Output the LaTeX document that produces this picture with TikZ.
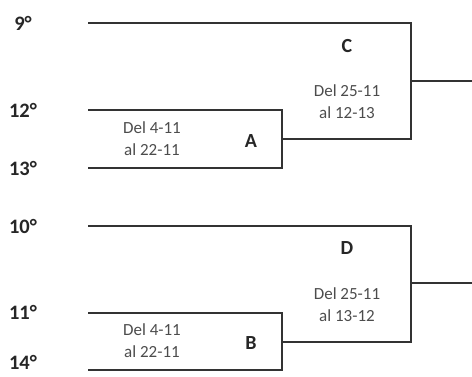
\documentclass[tikz,border=0pt]{standalone}
\usepackage{fontspec}
\setmainfont{Carlito}
\begin{document}
\begin{tikzpicture}[x=1pt,y=-1pt,
  seed/.style={font=\bfseries\fontsize{20.5}{22}\selectfont, text=black!85, inner sep=0pt, anchor=center},
  letter/.style={font=\bfseries\fontsize{20}{22}\selectfont, text=black!85, inner sep=0pt},
  dates/.style={font=\fontsize{17}{22}\selectfont, text=black!70, align=center, inner sep=0pt},
  wire/.style={draw=black!80, line width=1.9pt}]
\useasboundingbox (0,0) rectangle (472,376);
% seed labels
\node[seed] (n9) at (23,23) {9°};
\node[seed] (n12) at (23,110) {12°};
\node[seed] (n13) at (23,168) {13°};
\node[seed] (n10) at (23,226) {10°};
\node[seed] (n11) at (23,312) {11°};
\node[seed] (n14) at (23,362) {14°};
% line endpoints
\coordinate (s9) at (88,23);
\coordinate (s12) at (88,110);
\coordinate (s13) at (88,168);
\coordinate (s10) at (88,226);
\coordinate (s11) at (88,313);
\coordinate (s14) at (88,370);
\coordinate (aT) at (282,110);
\coordinate (aB) at (282,168);
\coordinate (aM) at (282,139);
\coordinate (cT) at (411,23);
\coordinate (cB) at (411,139);
\coordinate (cM) at (411,81);
\coordinate (cO) at (472,81);
\coordinate (bT) at (282,313);
\coordinate (bB) at (282,370);
\coordinate (bM) at (282,342);
\coordinate (dT) at (411,226);
\coordinate (dB) at (411,342);
\coordinate (dM) at (411,283);
\coordinate (dO) at (472,283);
% brackets
\draw[wire] (s12) -- (aT) -- (aB) -- (s13);
\draw[wire] (s9) -- (cT) -- (cB) -- (aM);
\draw[wire] (cM) -- (cO);
\draw[wire] (s11) -- (bT) -- (bB) -- (s14);
\draw[wire] (s10) -- (dT) -- (dB) -- (bM);
\draw[wire] (dM) -- (dO);
% match labels
\node[letter] (A) at (251,141) {A};
\node[letter] (B) at (251,343) {B};
\node[letter] (C) at (347,46) {C};
\node[letter] (D) at (347,248) {D};
\node[dates] (dA) at (152,139) {Del 4-11\\al 22-11};
\node[dates] (dBd) at (152,341) {Del 4-11\\al 22-11};
\node[dates] (dC) at (347,102) {Del 25-11\\al 12-13};
\node[dates] (dD) at (347,305) {Del 25-11\\al 13-12};
\end{tikzpicture}
\end{document}
